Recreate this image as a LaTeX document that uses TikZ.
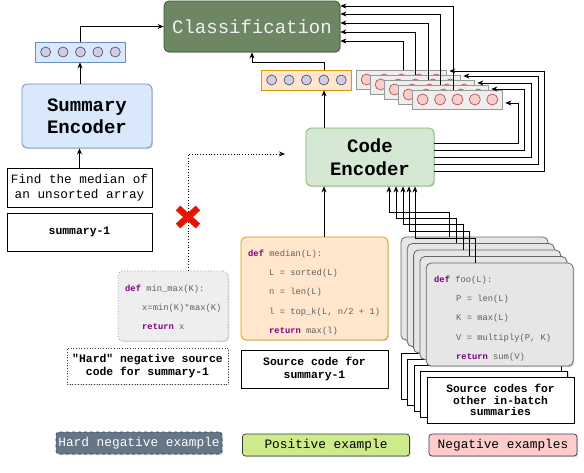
\documentclass[tikz,border=0pt]{standalone}
\usepackage{fontspec}
\setmainfont{Liberation Serif}
\setmonofont{Liberation Mono}
\usetikzlibrary{calc,shadows,arrows.meta}

\definecolor{sumfill}{HTML}{DAE8FC}
\definecolor{sumline}{HTML}{6C8EBF}
\definecolor{encfill}{HTML}{D5E8D4}
\definecolor{encline}{HTML}{82B366}
\definecolor{posfill}{HTML}{FFE6CC}
\definecolor{posline}{HTML}{D79B00}
\definecolor{clsfill}{HTML}{6D8764}
\definecolor{clsline}{HTML}{3A5431}
\definecolor{barfill}{HTML}{EEEEEE}
\definecolor{barline}{HTML}{999999}
\definecolor{negdot}{HTML}{F8CECC}
\definecolor{negdotline}{HTML}{B85450}
\definecolor{vecdot}{HTML}{D0CEE2}
\definecolor{vecdotline}{HTML}{56517E}
\definecolor{negcodefill}{HTML}{E6E6E6}
\definecolor{negcodeline}{HTML}{666666}
\definecolor{codegray}{HTML}{5F5F5F}
\definecolor{kwpurple}{HTML}{7F007F}
\definecolor{crossred}{HTML}{E51400}
\definecolor{hardfill}{HTML}{647687}
\definecolor{hardline}{HTML}{314354}
\definecolor{legposfill}{HTML}{CDEB8B}
\definecolor{legnegfill}{HTML}{FFCCCC}
\definecolor{legline}{HTML}{36393D}

\newcommand{\codekw}[1]{\textcolor{kwpurple}{\textbf{#1}}}
\newcommand{\codeindent}[1]{\hspace*{#1pt}}

\begin{document}
\begin{tikzpicture}
[x=1pt,y=-1pt,
  shadowdecorate/.style={drop shadow={shadow xshift=1.2pt,shadow yshift=-1.2pt,opacity=0.3}},
  boxdecorate/.style={draw,rounded corners=5pt,line width=0.8pt,inner sep=0pt,align=center,shadowdecorate},
  labeldecorate/.style={draw,line width=0.7pt,inner sep=0pt,align=center,fill=white,shadowdecorate,
    font=\fontsize{11.4}{13.5}\selectfont\ttfamily\bfseries},
  vecdecorate/.style={draw,line width=0.7pt,inner sep=0pt,minimum width=90pt,minimum height=19pt,shadowdecorate},
  codedecorate/.style={inner sep=0pt,anchor=north west,align=left,text=codegray,
    font=\fontsize{8.8}{19.3}\selectfont\ttfamily},
  linedecorate/.style={-{Stealth[length=6pt,width=5pt]},line width=0.8pt},
  crossdecorate/.style={crossred,line width=6.5pt},
  legenddecorate/.style={draw,rounded corners=3pt,line width=0.7pt,minimum height=22pt,inner sep=0pt,
    shadowdecorate,font=\fontsize{12.8}{14}\selectfont\ttfamily}]
\useasboundingbox (0,0) rectangle (584,472);

%% classifier and encoders
\node (cls) at (252,26.5) [boxdecorate,fill=clsfill,draw=clsline,minimum width=176pt,minimum height=51pt,
  text=white!94!black,font=\fontsize{19}{22}\selectfont\ttfamily] {Classification};
\node (sumenc) at (87,116) [boxdecorate,fill=sumfill,draw=sumline,minimum width=130pt,minimum height=64pt,
  font=\fontsize{19}{22}\selectfont\ttfamily\bfseries] {Summary\\Encoder};
\node (codeenc) at (370,157) [boxdecorate,fill=encfill,draw=encline,minimum width=128pt,minimum height=58pt,
  font=\fontsize{19}{23}\selectfont\ttfamily\bfseries] {Code\\Encoder};

%% summary side
\node (sumtext) at (79.5,187.5) [draw,line width=0.7pt,minimum width=145pt,minimum height=39pt,inner sep=0pt,
  align=center,shadowdecorate,fill=white,font=\fontsize{12.7}{15}\selectfont\ttfamily] {Find the median of\\an unsorted array};
\node (sumlabel) at (79.5,232) [labeldecorate,minimum width=145pt,minimum height=38pt] {summary-1};

%% embedding vectors
\node (sumbar) at (80,52) [vecdecorate,fill=sumfill,draw=sumline,minimum height=20pt] {};
\node (posbar) at (306,80) [vecdecorate,fill=posfill,draw=posline,minimum height=20pt] {};
\foreach \barname in {sumbar,posbar}
{
  \foreach \k in {0,...,4}
    \draw[fill=vecdot,draw=vecdotline,line width=0.7pt] ($(\barname.west)+({11+17.4*\k},0)$) circle [radius=5pt];
}
\foreach \i in {1,...,5}
{
  \node (negbar\i) at ({401+14*(\i-1)},{79.5+5*(\i-1)}) [vecdecorate,fill=barfill,draw=barline] {};
  \foreach \k in {0,...,4}
    \draw[fill=negdot,draw=negdotline,line width=0.7pt] ($(negbar\i.west)+({11+17.4*\k},0)$) circle [radius=5.5pt];
}

%% positive source code
\node (poscode) at (314.5,288.5) [boxdecorate,fill=posfill,draw=posline,minimum width=147pt,minimum height=103pt] {};
\node (poscodetext) at (248,249.5) [codedecorate] {\codekw{def} median(L):\\
  \codeindent{21}L = sorted(L)\\
  \codeindent{21}n = len(L)\\
  \codeindent{21}l = top\_k(L, n/2 + 1)\\
  \codeindent{21}\codekw{return} max(l)};
\node (poslabel) at (314.5,369) [labeldecorate,minimum width=147pt,minimum height=38pt] {Source code for\\summary-1};

%% hard negative source code
\node (hardcode) at (173,306) [boxdecorate,fill=barfill,draw=barline,dotted,minimum width=110pt,minimum height=70pt] {};
\node (hardcodetext) at (125,284.5) [codedecorate] {\codekw{def} min\_max(K):\\
  \codeindent{17}x=min(K)*max(K)\\
  \codeindent{17}\codekw{return} x};
\node (hardlabel) at (147.5,366) [labeldecorate,dotted,draw=black!75,minimum width=161pt,minimum height=36pt]
  {"Hard" negative source\\code for summary-1};

%% negative source codes
\foreach \i in {1,...,4}
{
  \node (neglabel\i) at ({474.5+6.5*(\i-1)},{376+6*(\i-1)}) [labeldecorate,minimum width=147pt,minimum height=46pt] {};
}
\node (neglabel5) at (500.5,400) [labeldecorate,minimum width=147pt,minimum height=46pt,
  font=\fontsize{11.3}{11.8}\selectfont\ttfamily\bfseries] {Source codes for\\other in-batch\\summaries};
\foreach \i in {1,...,4}
{
  \node (negcode\i) at ({474.5+6.3*(\i-1)},{288.5+6.5*(\i-1)}) [boxdecorate,fill=negcodefill,draw=negcodeline,
    minimum width=147pt,minimum height=103pt] {};
}
\node (negcode5) at (499.7,314.5) [boxdecorate,fill=negcodefill,draw=negcodeline,minimum width=147pt,minimum height=103pt] {};
\node (negcodetext) at (434,275.5) [codedecorate] {\codekw{def} foo(L):\\
  \codeindent{22}P = len(L)\\
  \codeindent{22}K = max(L)\\
  \codeindent{22}V = multiply(P, K)\\
  \codeindent{22}\codekw{return} sum(V)};

%% connectors
\coordinate (posx) at (324,0);
\coordinate (hardend) at (285,154);
\coordinate (xmark) at (188,217);
\draw[linedecorate] (sumtext.north) -- (sumtext.north |- sumenc.south);
\draw[linedecorate] (sumbar.south |- sumenc.north) -- (sumbar.south);
\draw[linedecorate] (sumbar.north) |- (cls.west);
\draw[linedecorate] (poscode.north -| posx) -- (codeenc.south -| posx);
\draw[linedecorate] (codeenc.north -| posx) -- (posbar.south -| posx);
\draw[linedecorate] (posbar.north -| posx) -- ++(0,-7) -| (cls.south);
\foreach \i/\lx/\ly in {1/403/41, 2/415/32, 3/428/23, 4/440/14, 5/453/6}
{
  \draw[linedecorate] (negbar\i.north -| \lx,0) |- (cls.east |- 0,\ly);
}
\foreach \i/\ey/\vx/\ty in {5/143/518/103, 4/150/524/89, 3/157/531/83, 2/164/538/76, 1/171/544/71}
{
  \draw[linedecorate,shorten >=3pt] (codeenc.east |- 0,\ey) -| (\vx,\ty) -- (negbar\i.east |- 0,\ty);
}
\foreach \i/\ax/\hy/\vx in {1/389/212/449, 2/396/218/456, 3/403/224/463, 4/409/231/469, 5/415/238/475}
{
  \draw[linedecorate] (negcode\i.north -| \vx,0) |- (\ax,\hy) -- (codeenc.south -| \ax,0);
}
\draw[linedecorate,dotted,line width=0.7pt] (hardcode.north -| xmark) |- (hardend);
%% red cross over the dotted link
\draw[crossdecorate] ($(xmark)+(-10,-9)$) -- ($(xmark)+(10,9)$);
\draw[crossdecorate] ($(xmark)+(10,-9)$) -- ($(xmark)+(-10,9)$);

%% legend
\node (leghard) at (139,443) [legenddecorate,fill=hardfill,draw=hardline,dashed,text=white,minimum width=166pt] {Hard negative example};
\node (legpos) at (326,445) [legenddecorate,fill=legposfill,draw=legline,minimum width=167pt] {Positive example};
\node (legneg) at (503,445) [legenddecorate,fill=legnegfill,draw=legline,minimum width=148pt] {Negative examples};
\end{tikzpicture}
\end{document}
